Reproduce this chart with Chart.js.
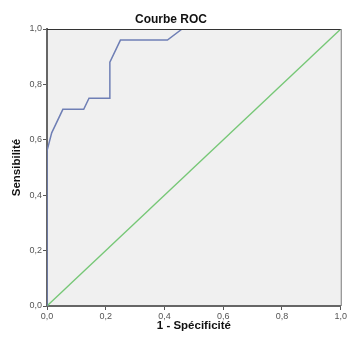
<!DOCTYPE html>
<html>
<head>
<meta charset="utf-8">
<script src="https://cdn.jsdelivr.net/npm/chart.js@4"></script>
<style>
  html, body { margin: 0; padding: 0; background: #fff; }
  #wrap { width: 348px; height: 340px; }
</style>
</head>
<body>
<div id="wrap"><canvas id="rocChart" width="348" height="340"></canvas></div>
<script>
// Courbe ROC
const fpr = [0, 0, 0.016, 0.054, 0.125, 0.143, 0.214, 0.214, 0.25, 0.41, 0.46, 1];
const sens = [0, 0.56, 0.625, 0.71, 0.71, 0.75, 0.75, 0.88, 0.96, 0.96, 1, 1];
const refX = [0, 1];
const refY = [0, 1];
const tickValues = [0, 0.2, 0.4, 0.6, 0.8, 1];

const fmt = (v) => v.toFixed(1).replace(".", ",");

// plot background + top/right frame
const frame = {
  id: "frame",
  beforeDraw(chart) {
    const { ctx, chartArea: a } = chart;
    ctx.save();
    ctx.fillStyle = "#f0f0f0";
    ctx.fillRect(a.left, a.top, a.right - a.left, a.bottom - a.top);
    ctx.restore();
  },
  afterDraw(chart) {
    const { ctx, chartArea: a } = chart;
    ctx.save();
    ctx.strokeStyle = "#333";
    ctx.lineWidth = 1;
    ctx.beginPath();
    ctx.moveTo(a.left, a.top + 0.5);
    ctx.lineTo(a.right, a.top + 0.5);
    ctx.stroke();
    ctx.strokeStyle = "#777";
    ctx.beginPath();
    ctx.moveTo(a.right + 0.5, a.top);
    ctx.lineTo(a.right + 0.5, a.bottom);
    ctx.stroke();
    ctx.restore();
  },
};

const tickFont = { family: "'Liberation Sans', Arial", size: 9 };
const axisFont = { family: "'Liberation Sans', Arial", size: 11.5, weight: "bold" };

new Chart(document.getElementById("rocChart"), {
  type: "scatter",
  data: {
    datasets: [
      {
        data: fpr.map((x, i) => ({ x: x, y: sens[i] })),
        showLine: true,
        borderColor: "#6f7fb5",
        borderWidth: 1.5,
        pointRadius: 0,
        tension: 0,
      },
      {
        data: refX.map((x, i) => ({ x: x, y: refY[i] })),
        showLine: true,
        borderColor: "#76c776",
        borderWidth: 1.3,
        pointRadius: 0,
      },
    ],
  },
  options: {
    responsive: false,
    animation: false,
    layout: { padding: { right: 6 } },
    plugins: {
      legend: { display: false },
      tooltip: { enabled: false },
      title: {
        display: true,
        text: "Courbe ROC",
        color: "#111",
        font: { family: "'Liberation Sans', Arial", size: 12, weight: "bold" },
        padding: { top: 12, bottom: 2.6 },
      },
    },
    scales: {
      x: {
        type: "linear",
        min: 0,
        max: 1,
        afterBuildTicks: (s) => { s.ticks = tickValues.map((v) => ({ value: v })); },
        afterFit: (s) => { s.height = 34; },
        ticks: { callback: fmt, color: "#555", font: tickFont, padding: 1, maxRotation: 0 },
        grid: { drawOnChartArea: false, drawTicks: true, tickLength: 4, color: "#555" },
        border: { color: "#666", width: 2 },
        title: { display: true, text: "1 - Spécificité", color: "#111", font: axisFont, padding: { top: 0, bottom: 7 } },
      },
      y: {
        type: "linear",
        min: 0,
        max: 1,
        afterBuildTicks: (s) => { s.ticks = tickValues.map((v) => ({ value: v })); },
        afterFit: (s) => { s.width = 47; },
        ticks: { callback: fmt, color: "#555", font: tickFont, padding: 1 },
        grid: { drawOnChartArea: false, drawTicks: true, tickLength: 4, color: "#555" },
        border: { color: "#666", width: 2 },
        title: { display: true, text: "Sensibilité", color: "#111", font: axisFont, padding: { top: 10, bottom: 0 } },
      },
    },
  },
  plugins: [frame],
});
</script>
</body>
</html>
